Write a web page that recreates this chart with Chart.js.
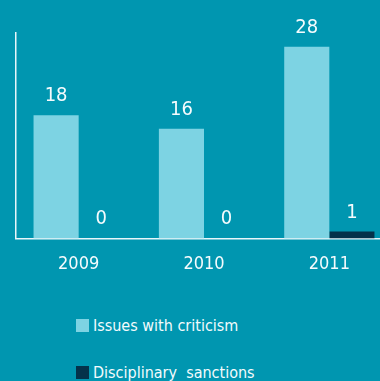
<!DOCTYPE html>
<html>
<head>
<meta charset="utf-8">
<script src="https://cdn.jsdelivr.net/npm/chart.js@4.4.1/dist/chart.umd.min.js"></script>
<style>
    html, body {
        margin: 0;
        padding: 0;
        width: 380px;
        height: 381px;
        overflow: hidden;
        background: #0096b0;
    }
    #wrap {
        position: relative;
        width: 392px;
        height: 290px;
    }
    .legend {
        position: absolute;
        left: 76px;
        font-family: "Liberation Sans Narrow", "DejaVu Sans Condensed", Arial, sans-serif;
        font-size: 16px;
        color: #f4fbfd;
        white-space: nowrap;
        line-height: 17px;
    }
    .legend span.box {
        display: inline-block;
        width: 13px;
        height: 13px;
        margin-right: 4px;
        vertical-align: -1px;
    }
</style>
</head>
<body>
<div id="wrap"><canvas id="bar_chart" width="392" height="290"></canvas></div>
<div class="legend" id="leg1" style="top:317px"><span class="box" style="background:#7dd3e3"></span>Issues with criticism</div>
<div class="legend" id="leg2" style="top:364px"><span class="box" style="background:#04324a"></span>Disciplinary&nbsp; sanctions</div>
<script>
var years = ['2009', '2010', '2011'];
var criticismCounts = [18, 16, 28];
var sanctionCounts = [0, 0, 1];

var labelFont = '"Liberation Sans Narrow", "DejaVu Sans Condensed", Arial, sans-serif';

// writes each bar's value above it
const valueLabels = {
    id: 'valueLabels',
    afterDatasetsDraw(chart) {
        const ctx = chart.ctx;
        ctx.save();
        ctx.fillStyle = '#f4fbfd';
        ctx.font = '20px ' + labelFont;
        ctx.textAlign = 'center';
        ctx.textBaseline = 'alphabetic';
        chart.data.datasets.forEach(function (ds, i) {
            chart.getDatasetMeta(i).data.forEach(function (bar, j) {
                ctx.fillText(String(ds.data[j]), bar.x, bar.y - 14);
            });
        });
        ctx.restore();
    }
};

const ctx1 = document.getElementById('bar_chart').getContext('2d');
var chart1 = new Chart(ctx1, {
    type: 'bar',
    data: {
        labels: years,
        datasets: [{
            label: 'Issues with criticism',
            data: criticismCounts,
            backgroundColor: '#7dd3e3',
            categoryPercentage: 0.72,
            barPercentage: 1.0
        }, {
            label: 'Disciplinary sanctions',
            data: sanctionCounts,
            backgroundColor: '#04324a',
            categoryPercentage: 0.72,
            barPercentage: 1.0
        }]
    },
    options: {
        responsive: false,
        animation: false,
        layout: {
            padding: { left: 8, top: 33, right: 0, bottom: 8 }
        },
        plugins: {
            legend: { display: false },
            tooltip: { enabled: false }
        },
        scales: {
            x: {
                grid: { display: false },
                border: { color: '#e8f6fa', width: 1.5 },
                ticks: {
                    color: '#f4fbfd',
                    padding: 7,
                    font: { family: labelFont, size: 18 }
                }
            },
            y: {
                min: 0,
                max: 30,
                grid: { display: false },
                border: { color: '#e8f6fa', width: 1.5 },
                ticks: { display: false }
            }
        }
    },
    plugins: [valueLabels]
});
</script>
</body>
</html>
